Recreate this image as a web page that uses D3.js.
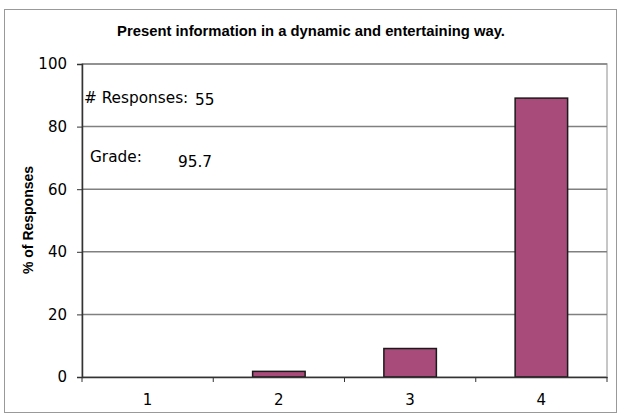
<!DOCTYPE html>
<html><head><meta charset="utf-8">
<script src="https://cdn.jsdelivr.net/npm/d3@7"></script>
<style>body{margin:0;background:#fff}svg{display:block}</style>
</head><body><svg id="c" width="621" height="419"></svg>
<script>
const categories = ["1","2","3","4"];
const values = [0, 1.8, 9.1, 89.1];
const yTicks = [0,20,40,60,80,100];
const title = "Present information in a dynamic and entertaining way.";
const yLabel = "% of Responses";
const responses = "55";
const grade = "95.7";

const LF = "'Liberation Sans',Arial,sans-serif";
const DF = "'DejaVu Sans',sans-serif";
const svg = d3.select("#c");
svg.append("rect").attr("x",4.5).attr("y",9.5).attr("width",612).attr("height",403)
  .attr("fill","#fff").attr("stroke","#999").attr("stroke-width",1);

const m = {l:82, r:607, t:64, b:377};
const x = d3.scaleBand().domain(categories).range([m.l,m.r]).paddingInner(0.6).paddingOuter(0.3);
const xb = d3.scaleBand().domain(categories).range([m.l,m.r]);
const y = d3.scaleLinear().domain([0,100]).range([m.b,m.t]);

svg.append("rect").attr("x",m.l).attr("y",m.t).attr("width",m.r-m.l).attr("height",m.b-m.t)
  .attr("fill","none").attr("stroke","#b4b4b4").attr("stroke-width",1.5);
svg.append("g").selectAll("line").data(yTicks.filter(d=>d>0)).join("line")
  .attr("x1",m.l).attr("x2",m.r).attr("y1",d=>y(d)).attr("y2",d=>y(d))
  .attr("stroke","#808080").attr("stroke-width",1.5);

const data = categories.map((c,i)=>({c, v: values[i]})).filter(d=>d.v>0);
svg.append("g").selectAll("rect").data(data).join("rect")
  .attr("x",d=>x(d.c)).attr("width",x.bandwidth())
  .attr("y",d=>y(d.v)).attr("height",d=>y(0)-y(d.v))
  .attr("fill","#a84a7a").attr("stroke","#1a1a1a").attr("stroke-width",1.5);

const ya = svg.append("g").attr("transform",`translate(${m.l},0)`)
  .call(d3.axisLeft(y).tickValues(yTicks).tickSize(5).tickPadding(10));
ya.select(".domain").attr("stroke","#333").attr("stroke-width",1.5);
ya.selectAll(".tick line").attr("stroke","#333");
ya.selectAll(".tick text").attr("font-size",15).attr("fill","#000").attr("font-family",DF);

const xa = svg.append("g").attr("transform",`translate(0,${m.b})`)
  .call(d3.axisBottom(xb).tickSize(0).tickPadding(17));
xa.select(".domain").attr("stroke","#333").attr("stroke-width",1.5);
xa.selectAll(".tick text").attr("font-size",15).attr("fill","#000").attr("font-family",DF);
svg.append("g").selectAll("line").data(d3.range(categories.length+1)).join("line")
  .attr("x1",i=>m.l+i*xb.step()).attr("x2",i=>m.l+i*xb.step())
  .attr("y1",m.b).attr("y2",m.b+5).attr("stroke","#333");

svg.append("text").attr("x",311).attr("y",36).attr("text-anchor","middle").attr("font-family",LF)
  .attr("font-size",14.8).attr("font-weight","bold").text(title);
svg.append("text").attr("transform","translate(33,220) rotate(-90)").attr("text-anchor","middle").attr("font-family",LF)
  .attr("font-size",14).attr("font-weight","bold").text(yLabel);

const ann = svg.append("g");
ann.append("text").attr("x",84).attr("y",103).attr("font-family",DF).attr("font-size",15.3).text("# Responses:");
ann.append("text").attr("x",195).attr("y",105).attr("font-family",DF).attr("font-size",15.3).text(responses);
ann.append("text").attr("x",90).attr("y",162).attr("font-family",DF).attr("font-size",15.3).text("Grade:");
ann.append("text").attr("x",178).attr("y",167).attr("font-family",DF).attr("font-size",15.3).text(grade);
</script></body></html>
